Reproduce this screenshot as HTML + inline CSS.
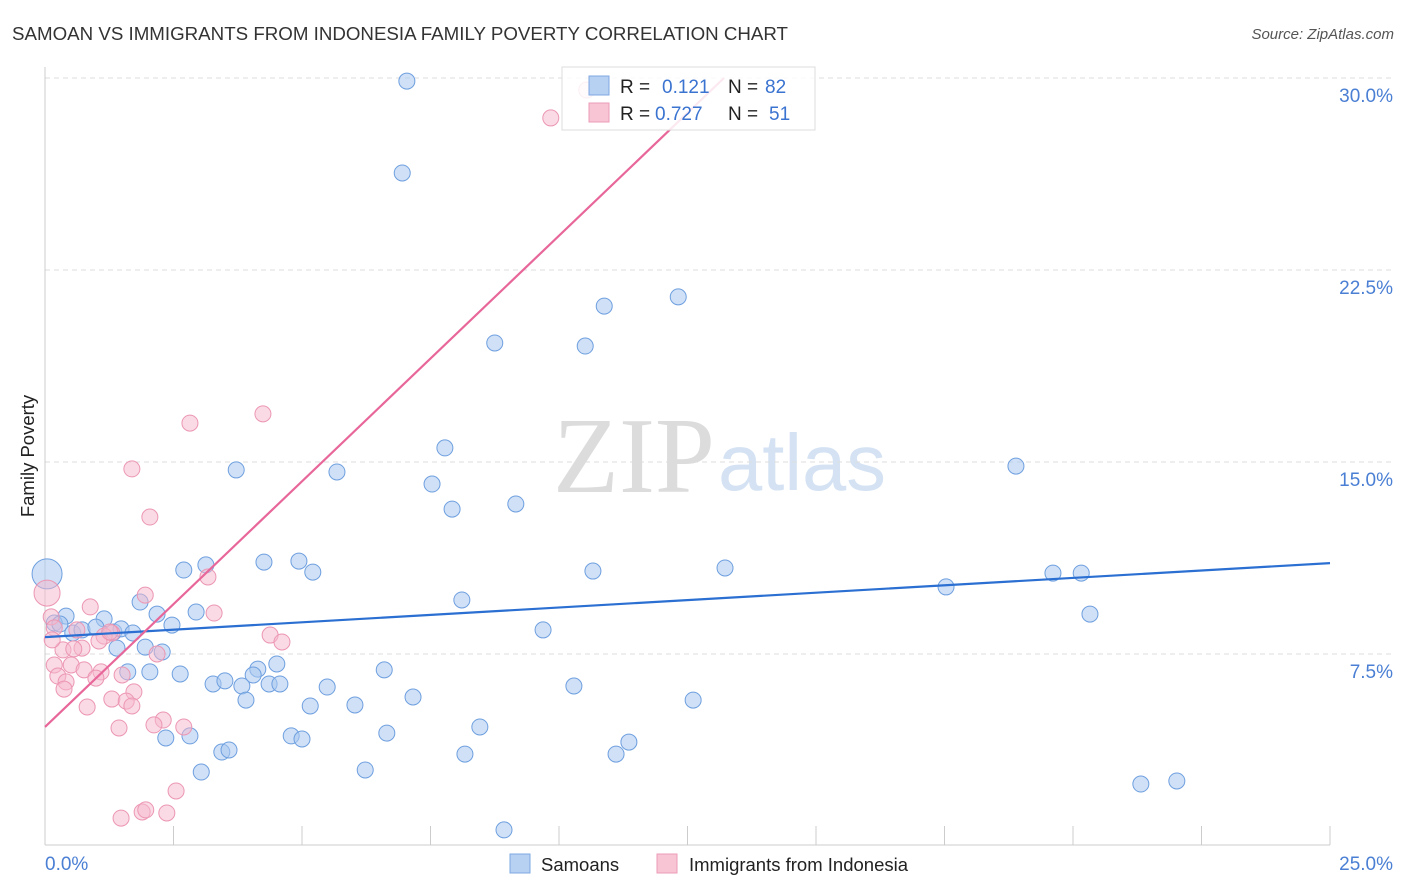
<!DOCTYPE html>
<html><head><meta charset="utf-8"><style>
body{margin:0;background:#fff;font-family:"Liberation Sans",sans-serif}
svg{display:block}
</style></head><body>
<svg id="chart" width="1406" height="892" font-family="Liberation Sans, sans-serif">
<text x="12" y="40" font-size="18" fill="#333" textLength="776" lengthAdjust="spacingAndGlyphs">SAMOAN VS IMMIGRANTS FROM INDONESIA FAMILY POVERTY CORRELATION CHART</text>
<text x="1394" y="39" font-size="15" fill="#555" font-style="italic" text-anchor="end">Source: ZipAtlas.com</text>
<text transform="translate(34,456) rotate(-90)" font-size="18.5" fill="#222" text-anchor="middle">Family Poverty</text>
<g>
<text x="553" y="492" font-family="Liberation Serif, serif" font-size="108" fill="#dcdcdc" textLength="162" lengthAdjust="spacingAndGlyphs">ZIP</text>
<text x="718" y="490" font-size="80" fill="#d4e2f3" textLength="168" lengthAdjust="spacingAndGlyphs">atlas</text>
</g>
<g id="grid"></g>
<g id="axes"></g>
<g id="marks"></g>
<g>
<rect x="562" y="67" width="253" height="63" fill="#fff" fill-opacity="0.85" stroke="#ddd"/>
<rect x="589" y="76" width="20" height="19" fill="#b7d1f3" stroke="#7fa8e0"/>
<rect x="589" y="103" width="20" height="19" fill="#f8c5d5" stroke="#ec9bb6"/>
<text x="620" y="93" font-size="19" fill="#222">R =</text>
<text x="662" y="93" font-size="19" fill="#3a73d0">0.121</text>
<text x="728" y="93" font-size="19" fill="#222">N =</text>
<text x="765" y="93" font-size="19" fill="#3a73d0">82</text>
<text x="620" y="120" font-size="19" fill="#222">R =</text>
<text x="655" y="120" font-size="19" fill="#3a73d0">0.727</text>
<text x="728" y="120" font-size="19" fill="#222">N =</text>
<text x="769" y="120" font-size="19" fill="#3a73d0">51</text>
</g>
<g>
<rect x="510" y="854" width="20" height="19" fill="#b7d1f3" stroke="#7fa8e0"/>
<text x="541" y="871" font-size="18.5" fill="#222">Samoans</text>
<rect x="657" y="854" width="20" height="19" fill="#f8c5d5" stroke="#ec9bb6"/>
<text x="689" y="871" font-size="18.5" fill="#222">Immigrants from Indonesia</text>
</g>
</svg>
<script>
const blueX=[7.04,6.95,10.88,12.32,8.75,10.51,7.78,3.72,5.68,7.53,7.92,9.16,18.89,2.70,3.13,4.26,4.94,5.21,10.66,13.23,17.53,19.61,20.16,20.33,8.11,1.85,2.94,2.18,0.41,1.15,2.47,9.69,0.18,0.29,0.54,0.72,0.99,1.34,1.48,1.71,1.40,1.95,2.28,1.61,2.04,2.63,3.27,3.50,3.83,4.14,4.05,4.51,4.36,4.57,3.91,5.49,6.60,7.16,10.29,12.61,5.16,6.03,2.35,2.82,3.44,3.58,4.79,5.00,6.65,8.46,8.17,11.11,11.36,3.04,6.23,8.93,21.32,22.02,0.04];
const blueY=[29.88,26.29,21.09,21.45,19.65,19.53,15.55,14.69,14.61,14.14,13.16,13.36,14.84,10.78,10.98,11.09,11.13,10.70,10.74,10.86,10.12,10.66,10.66,9.06,9.61,9.53,9.14,9.06,8.98,8.87,8.63,8.44,8.71,8.67,8.32,8.44,8.55,8.36,8.48,8.32,7.73,7.77,7.58,6.80,6.80,6.72,6.33,6.45,6.25,6.91,6.68,7.11,6.33,6.33,5.70,6.21,6.88,5.82,6.25,5.70,5.47,5.51,4.22,4.30,3.67,3.75,4.30,4.18,4.41,4.65,3.59,3.59,4.06,2.89,2.97,0.63,2.42,2.54,10.63];
const pinkX=[10.54,9.84,4.24,2.82,1.69,2.04,3.17,1.95,3.29,0.88,0.04,0.12,0.18,0.62,1.30,1.15,4.38,4.61,2.18,0.72,0.35,0.56,1.05,0.18,0.51,0.76,1.09,0.25,0.41,0.99,1.50,1.73,1.30,1.58,1.69,0.82,2.30,2.12,2.70,1.44,2.55,1.89,1.96,2.37,1.48,1.26,0.37,0.14];
const pinkY=[29.53,28.44,16.88,16.52,14.73,12.85,10.51,9.80,9.10,9.34,9.88,8.95,8.52,8.44,8.32,8.20,8.24,7.97,7.50,7.73,7.66,7.70,8.01,7.07,7.07,6.88,6.80,6.64,6.41,6.56,6.68,6.02,5.74,5.66,5.47,5.43,4.92,4.73,4.65,4.61,2.15,1.33,1.41,1.29,1.09,8.36,6.13,8.05];
const blueLine=[8.16,0.1156];
const pinkLine=[4.65,1.919];
const yTicks=[7.5,15,22.5,30];
const yTickLabels=["7.5%","15.0%","22.5%","30.0%"];
const xTicks=[0,2.5,5,7.5,10,12.5,15,17.5,20,22.5,25];
const NS="http://www.w3.org/2000/svg";
const X=v=>45+v*51.4, Y=v=>846-v*25.6;
function mk(tag,attrs,parent){const e=document.createElementNS(NS,tag);for(const k in attrs)e.setAttribute(k,attrs[k]);document.getElementById(parent).appendChild(e);return e;}
yTicks.forEach((t,i)=>{
 const g=mk('line',{x1:45,x2:1392,y1:Y(t),y2:Y(t),stroke:'#ddd','stroke-dasharray':'5,4'},'grid');
 
 
 const l=mk('text',{x:1393,y:Y(t)+24,'font-size':19,fill:'#4a7fd4','text-anchor':'end'},'axes');
 l.textContent=yTickLabels[i];
 
 
});
const ax=mk('line',{x1:45,x2:45,y1:67,y2:845,stroke:'#ccc'},'axes');


const bx=mk('line',{x1:45,x2:1330,y1:845,y2:845,stroke:'#ccc'},'axes');


xTicks.forEach(t=>{
 const k=mk('line',{x1:X(t),x2:X(t),y1:826,y2:845,stroke:'#ccc'},'axes');
 
 
});
const xl0=mk('text',{x:45,y:870,'font-size':19,fill:'#4a7fd4'},'axes');
xl0.textContent='0.0%';


const xl1=mk('text',{x:1393,y:870,'font-size':19,fill:'#4a7fd4','text-anchor':'end'},'axes');
xl1.textContent='25.0%';


blueX.forEach((v,i)=>{
 const r=i===blueX.length-1?15:8;
 const c=mk('circle',{cx:X(v),cy:Y(blueY[i]),r:r,fill:'#a9c8f0','fill-opacity':0.55,stroke:'#6e9fdf','stroke-width':1},'marks');
 
 
});
pinkX.forEach((v,i)=>{
 const r=i===10?13:8;
 const c=mk('circle',{cx:X(v),cy:Y(pinkY[i]),r:r,fill:'#f5b8cc','fill-opacity':0.5,stroke:'#ec96b3','stroke-width':1},'marks');
 
 
});
const bl=mk('line',{x1:X(0),y1:Y(blueLine[0]),x2:X(25),y2:Y(blueLine[0]+25*blueLine[1]),stroke:'#2a6fd1','stroke-width':2.2},'marks');


const pxEnd=(30-pinkLine[0])/pinkLine[1];
const pl=mk('line',{x1:X(0),y1:Y(pinkLine[0]),x2:X(pxEnd),y2:Y(30),stroke:'#e8679a','stroke-width':2.2},'marks');


</script>
</body></html>
